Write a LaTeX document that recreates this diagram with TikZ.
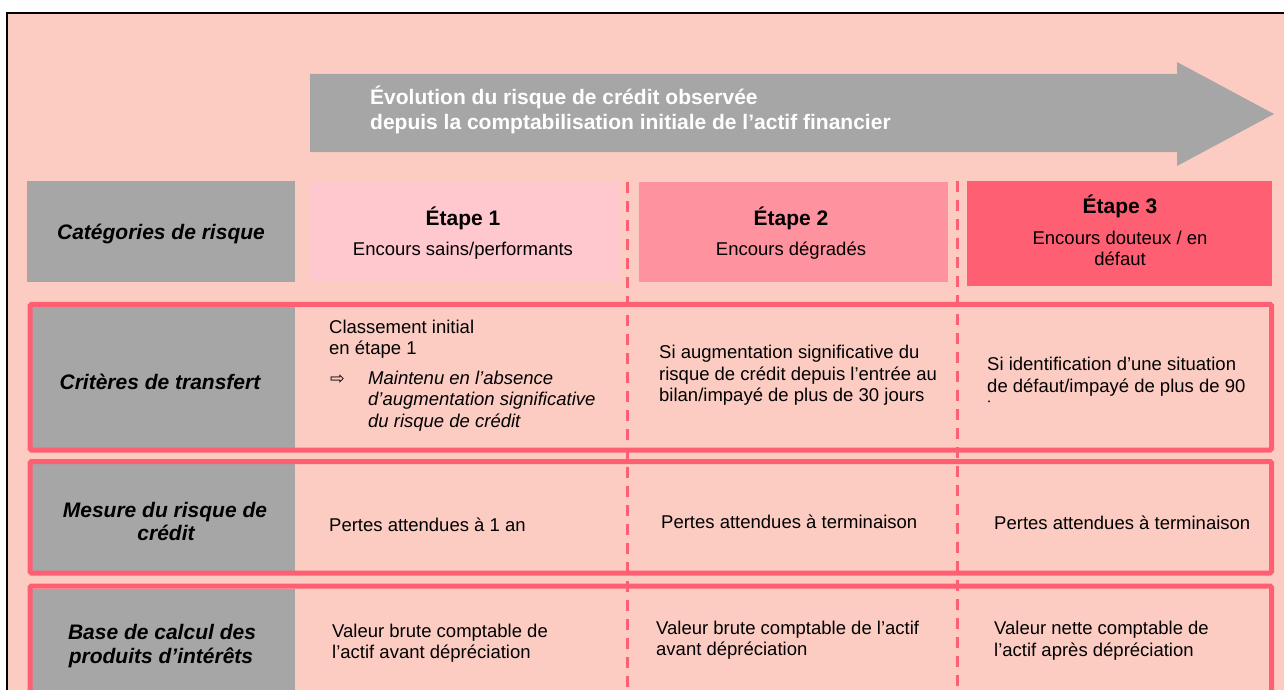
\documentclass[tikz,border=0pt]{standalone}
\usepackage{fontspec}
\setmainfont{Liberation Sans}
\newfontfamily\symfont{DejaVu Sans}
\definecolor{bgc}{HTML}{FCCCC2}
\definecolor{greyc}{HTML}{A6A6A6}
\definecolor{eonec}{HTML}{FFC7CE}
\definecolor{etwoc}{HTML}{FF929F}
\definecolor{ethreec}{HTML}{FF5F73}
\newcommand\myreg{\fontsize{18.5}{21.5}\selectfont}
\newcommand\mybold{\fontsize{21}{24}\selectfont\bfseries}
\tikzset{
  rowborder/.style={draw=ethreec, line width=5pt, rounded corners=1.5pt},
  dashline/.style={draw=ethreec, line width=3pt, dash pattern=on 11pt off 8pt},
  lefttxt/.style={font=\myreg, inner sep=0pt, anchor=base west},
  lefttxtit/.style={font=\myreg\itshape, inner sep=0pt, anchor=base west},
  ctrtxt/.style={font=\myreg, inner sep=0pt, anchor=base},
  hdrtxt/.style={font=\mybold\itshape, inner sep=0pt, anchor=base},
  stagetxt/.style={font=\mybold, inner sep=0pt, anchor=base},
  arrowtxt/.style={font=\mybold, text=white, inner sep=0pt, anchor=base west}
}
\begin{document}
\begin{tikzpicture}[x=1pt,y=-1pt]
\useasboundingbox (0,0) rectangle (1284,690);
\fill[white] (0,0) rectangle (1284,690);
\begin{scope}
\clip (0,0) rectangle (1284,690);
\fill[bgc] (7,13) rectangle (1300,700);
\draw[black, line width=2.2pt] (7,700) -- (7,13) -- (1300,13);
% big arrow
\fill[greyc] (310,74) -- (1177,74) -- (1177,62) -- (1274,114) -- (1177,166) -- (1177,152) -- (310,152) -- cycle;
% row 0 boxes
\fill[greyc] (27,181) rectangle (295,282);
\fill[eonec] (310,182) rectangle (619,281);
\fill[etwoc] (639,182) rectangle (948,282);
\fill[ethreec] (967,181) rectangle (1272,286);
% grey label boxes
\fill[greyc] (32,306.5) rectangle (295,448);
\fill[greyc] (32,464) rectangle (295,571);
\fill[greyc] (32,588.5) rectangle (295,720);
% row borders
\draw[rowborder] (30,304.3) rectangle (1271.5,450);
\draw[rowborder] (30,461.5) rectangle (1271.5,573);
\draw[rowborder] (30,586) rectangle (1271.5,730);
% dashed separators
\draw[dashline] (627,182) -- (627,700);
\draw[dashline] (957,181) -- (957,700);
\end{scope}
% arrow text
\node[arrowtxt] (ar1) at (370,105) {Évolution du risque de crédit observée};
\node[arrowtxt] (ar2) at (370,130) {depuis la comptabilisation initiale de l’actif financier};
% row 0
\node[hdrtxt] (h0) at (161,239) {Catégories de risque};
\node[stagetxt] (s1) at (463,225) {Étape 1};
\node[ctrtxt] (s1b) at (463,255) {Encours sains/performants};
\node[stagetxt] (s2) at (791,225) {Étape 2};
\node[ctrtxt] (s2b) at (791,255) {Encours dégradés};
\node[stagetxt] (s3) at (1120,213) {Étape 3};
\node[ctrtxt] (s3b) at (1120,244) {Encours douteux / en};
\node[ctrtxt] (s3c) at (1120,265) {défaut};
% row 1
\node[hdrtxt] (h1) at (160,389) {Critères de transfert};
\node[lefttxt] (c1a) at (329,333) {Classement initial};
\node[lefttxt] (c1b) at (329,354) {en étape 1};
\node[font=\symfont\fontsize{17.5}{20}\selectfont, inner sep=0pt, anchor=base west] (c1arr) at (330,384) {⇨};
\node[lefttxtit] (c1c) at (368,384) {Maintenu en l’absence};
\node[lefttxtit] (c1d) at (368,405) {d’augmentation significative};
\node[lefttxtit] (c1e) at (368,427) {du risque de crédit};
\node[lefttxt] (c2a) at (659,358) {Si augmentation significative du};
\node[lefttxt] (c2b) at (659,380) {risque de crédit depuis l’entrée au};
\node[lefttxt] (c2c) at (659,401) {bilan/impayé de plus de 30 jours};
\node[lefttxt] (c3a) at (987,370) {Si identification d’une situation};
\node[lefttxt] (c3b) at (987,392) {de défaut/impayé de plus de 90};
\begin{scope}
\clip (960,395) rectangle (1268,403.3);
\node[lefttxt] (c3c) at (987,414) {jours};
\end{scope}
% row 2
\node[hdrtxt] (h2a) at (165,517) {Mesure du risque de};
\node[hdrtxt] (h2b) at (166,540) {crédit};
\node[lefttxt] (m1) at (329,531) {Pertes attendues à 1 an};
\node[lefttxt] (m2) at (661,528) {Pertes attendues à terminaison};
\node[lefttxt] (m3) at (994,529) {Pertes attendues à terminaison};
% row 3
\node[hdrtxt] (h3a) at (162,639) {Base de calcul des};
\node[hdrtxt] (h3b) at (161,663) {produits d’intérêts};
\node[lefttxt] (b1a) at (332,637) {Valeur brute comptable de};
\node[lefttxt] (b1b) at (332,658) {l’actif avant dépréciation};
\node[lefttxt] (b2a) at (656,634) {Valeur brute comptable de l’actif};
\node[lefttxt] (b2b) at (656,655) {avant dépréciation};
\node[lefttxt] (b3a) at (994,634) {Valeur nette comptable de};
\node[lefttxt] (b3b) at (994,656) {l’actif après dépréciation};
\end{tikzpicture}
\end{document}
